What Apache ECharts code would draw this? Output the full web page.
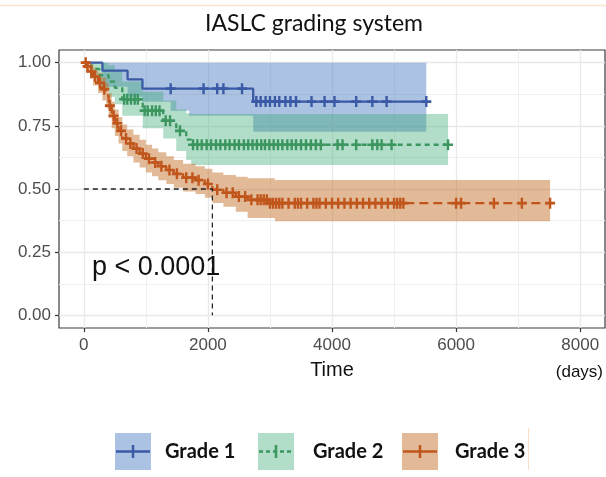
<!DOCTYPE html>
<html><head><meta charset="utf-8">
<script src="https://cdn.jsdelivr.net/npm/echarts@6/dist/echarts.min.js"></script>
<style>html,body{margin:0;padding:0;background:#fff}#c{width:606px;height:477px}</style>
</head><body><div id="c"></div>
<script>
// ---- data ----
const titleText = 'IASLC grading system';
const groups = ['Grade 1', 'Grade 2', 'Grade 3'];
const xTickLabels = [0, 2000, 4000, 6000, 8000];
const xMinorGrid = [1000, 3000, 5000, 7000];
const yTickLabels = [0, 0.25, 0.5, 0.75, 1];
const yMinorGrid = [0.125, 0.375, 0.625, 0.875];

// Grade 1 KM curve
const g1Time = [0, 300, 705, 945, 2730, 5520];
const g1Surv = [1.0, 0.968, 0.934, 0.897, 0.846, 0.846];
const g1BandT = [300, 705, 945, 1400, 1700, 2730, 5520];
const g1BandLo = [0.905, 0.865, 0.845, 0.81, 0.79, 0.727, 0.727];
const g1BandHi = [1.0, 1.0, 1.0, 1.0, 1.0, 1.0, 1.0];
const g1Censor = [1400, 1930, 2150, 2250, 2550, 2780, 2850, 2930, 3000, 3080, 3150, 3250, 3330, 3420, 3670, 3880, 4040, 4390, 4650, 4880, 5520];

// Grade 2 KM curve
const g2Time = [0, 120, 250, 400, 500, 620, 950, 1280, 1490, 1650, 1730, 5870];
const g2Surv = [1.0, 0.975, 0.95, 0.925, 0.90, 0.855, 0.81, 0.77, 0.73, 0.695, 0.675, 0.675];
const g2BandT = [120, 250, 400, 500, 620, 950, 1280, 1490, 1650, 1730, 5870];
const g2BandLo = [0.94, 0.90, 0.865, 0.835, 0.79, 0.74, 0.70, 0.65, 0.615, 0.595, 0.595];
const g2BandHi = [1.0, 1.0, 0.99, 0.97, 0.925, 0.885, 0.85, 0.815, 0.80, 0.797, 0.797];
const g2Censor = [650, 700, 760, 820, 870, 980, 1030, 1100, 1160, 1220, 1320, 1390, 1550, 1760, 1830, 1900, 1980, 2050, 2130, 2200, 2280, 2350, 2430, 2500, 2580, 2650, 2720, 2790, 2860, 2920, 2990, 3060, 3130, 3200, 3280, 3350, 3420, 3500, 3580, 3660, 3740, 3820, 4090, 4170, 4390, 4650, 4730, 4800, 4960, 5870];

// Grade 3 KM curve
const g3Time = [0, 40, 100, 150, 230, 300, 360, 400, 450, 500, 560, 620, 700, 800, 900, 1000, 1100, 1200, 1330, 1450, 1600, 1800, 1950, 2072, 2250, 2450, 2640, 3000, 7515];
const g3Surv = [1.0, 0.985, 0.965, 0.945, 0.92, 0.895, 0.87, 0.83, 0.79, 0.76, 0.73, 0.70, 0.68, 0.66, 0.64, 0.62, 0.605, 0.59, 0.575, 0.56, 0.545, 0.535, 0.52, 0.497, 0.485, 0.47, 0.457, 0.444, 0.444];
const g3BandT = [40, 100, 150, 230, 300, 360, 400, 450, 500, 560, 620, 700, 800, 900, 1000, 1100, 1200, 1330, 1450, 1600, 1800, 1950, 2072, 2250, 2450, 2640, 3080, 7515];
const g3BandLo = [0.96, 0.935, 0.91, 0.88, 0.85, 0.82, 0.78, 0.74, 0.71, 0.68, 0.65, 0.63, 0.605, 0.585, 0.565, 0.55, 0.535, 0.52, 0.505, 0.49, 0.48, 0.465, 0.445, 0.43, 0.41, 0.385, 0.372, 0.372];
const g3BandHi = [1.0, 0.995, 0.98, 0.96, 0.94, 0.92, 0.88, 0.845, 0.815, 0.785, 0.755, 0.735, 0.715, 0.695, 0.675, 0.66, 0.645, 0.63, 0.615, 0.60, 0.59, 0.58, 0.565, 0.555, 0.548, 0.543, 0.536, 0.536];
const g3Censor = [30, 60, 120, 180, 260, 330, 420, 480, 540, 600, 680, 750, 850, 950, 1050, 1150, 1250, 1380, 1500, 1650, 1750, 1850, 2000, 2150, 2300, 2400, 2500, 2600, 2700, 2800, 2850, 2900, 2950, 3000, 3050, 3100, 3150, 3200, 3300, 3400, 3450, 3500, 3600, 3700, 3750, 3800, 3900, 4000, 4100, 4200, 4300, 4400, 4500, 4600, 4700, 4800, 4900, 5000, 5050, 5100, 5150, 6000, 6080, 6610, 7060, 7515];

const medianTime = 2072;
const medianSurv = 0.5;
const pText = 'p < 0.0001';

// ---- styling ----
const lineColors = ['#3a5aa6', '#3b9660', '#c0561c'];
const bandColors = ['rgba(70,120,190,0.45)', 'rgba(60,170,120,0.40)', 'rgba(195,110,40,0.48)'];
const lineDash = ['solid', [5, 4], [9, 5]];
const plusPath = 'path://M3.8,0 H6.2 V3.8 H10 V6.2 H6.2 V10 H3.8 V6.2 H0 V3.8 H3.8 Z';

function survAt(times, surv, t) {
  let s = surv[0];
  for (let i = 0; i < times.length; i++) if (times[i] <= t) s = surv[i];
  return s;
}
function curveData(times, surv) { return times.map((t, i) => [t, surv[i]]); }

const curves = [
  {T: g1Time, S: g1Surv, bT: g1BandT, lo: g1BandLo, hi: g1BandHi, c: g1Censor},
  {T: g2Time, S: g2Surv, bT: g2BandT, lo: g2BandLo, hi: g2BandHi, c: g2Censor},
  {T: g3Time, S: g3Surv, bT: g3BandT, lo: g3BandLo, hi: g3BandHi, c: g3Censor}
];

const series = [];
curves.forEach((g, k) => {
  series.push({
    type: 'custom', name: groups[k] + ' CI', silent: true, z: 1,
    data: [[g.bT[0], g.lo[0]]],
    encode: {x: 0, y: 1},
    renderItem: (params, api) => {
      const pts = [];
      for (let i = 0; i < g.bT.length - 1; i++) {
        pts.push(api.coord([g.bT[i], g.hi[i]]), api.coord([g.bT[i + 1], g.hi[i]]));
      }
      for (let i = g.bT.length - 2; i >= 0; i--) {
        pts.push(api.coord([g.bT[i + 1], g.lo[i]]), api.coord([g.bT[i], g.lo[i]]));
      }
      return {type: 'polygon', shape: {points: pts}, style: {fill: bandColors[k], stroke: null}};
    }
  });
});
curves.forEach((g, k) => {
  series.push({
    type: 'line', name: groups[k], step: 'end', showSymbol: false, z: 3,
    data: curveData(g.T, g.S),
    lineStyle: {color: lineColors[k], width: 2.3, type: lineDash[k]},
    itemStyle: {color: lineColors[k]}
  });
});
curves.forEach((g, k) => {
  series.push({
    type: 'scatter', name: groups[k] + ' censor', symbol: plusPath, symbolSize: [10, 11], z: 4,
    data: g.c.map(t => [t, survAt(g.T, g.S, t)]),
    itemStyle: {color: lineColors[k], opacity: 1}
  });
});
series.push({
  type: 'line', name: 'median', showSymbol: false, z: 5, silent: true,
  data: [[0, medianSurv], [medianTime, medianSurv], [medianTime, 0]],
  lineStyle: {color: '#222', width: 1.3, type: [5, 4]}
});

const axisLabelFont = {color: '#4d4d4d', fontSize: 17, fontFamily: 'Liberation Sans, Arial, sans-serif'};

// legend drawn with graphic elements
const legendKeyX = [115, 258, 402];
const legendTextX = [165, 313, 455];
const legendGraphics = [];
groups.forEach((name, k) => {
  const x0 = legendKeyX[k];
  legendGraphics.push({type: 'rect', shape: {x: x0, y: 433, width: 36, height: 37}, style: {fill: bandColors[k]}});
  legendGraphics.push({type: 'line', shape: {x1: x0 + 1, y1: 451.5, x2: x0 + 35, y2: 451.5},
    style: {stroke: lineColors[k], lineWidth: 2.5, lineDash: k === 1 ? [4, 3] : null}});
  legendGraphics.push({type: 'line', shape: {x1: x0 + 18, y1: 445, x2: x0 + 18, y2: 458},
    style: {stroke: lineColors[k], lineWidth: 2.5}});
  legendGraphics.push({type: 'text', x: legendTextX[k], y: 452,
    style: {text: name, fill: '#111', font: 'bold 20px Lato, sans-serif', textVerticalAlign: 'middle'}});
});

const option = {
  animation: false,
  backgroundColor: '#fff',
  grid: {left: 59, top: 50, right: 1, bottom: 149, show: true, borderColor: '#3a3a3a', borderWidth: 1.2, backgroundColor: '#fff', containLabel: false},
  xAxis: [
    {type: 'value', min: -400, max: 8400, position: 'bottom',
      axisLine: {show: false, onZero: false},
      axisTick: {show: true, inside: false, length: 4, lineStyle: {color: '#333', width: 1.2}, customValues: xTickLabels},
      axisLabel: {customValues: xTickLabels, margin: 9, ...axisLabelFont, formatter: v => String(v)},
      splitLine: {show: true, lineStyle: {color: '#e9e9e9', width: 1.3}},
      name: 'Time', nameLocation: 'middle', nameGap: 32,
      nameTextStyle: {color: '#111', fontSize: 20, fontFamily: 'Liberation Sans, Arial, sans-serif'}},
    {type: 'value', min: -400, max: 8400, position: 'bottom',
      axisLine: {show: false, onZero: false},
      axisTick: {show: false, customValues: xMinorGrid},
      axisLabel: {show: false},
      splitLine: {show: true, lineStyle: {color: '#efefef', width: 1}}}
  ],
  yAxis: [
    {type: 'value', min: -0.05, max: 1.05, position: 'left',
      axisLine: {show: false, onZero: false},
      axisTick: {show: true, inside: false, length: 4, lineStyle: {color: '#333', width: 1.2}, customValues: yTickLabels},
      axisLabel: {customValues: yTickLabels, margin: 8, ...axisLabelFont, formatter: v => v.toFixed(2)},
      splitLine: {show: true, lineStyle: {color: '#e9e9e9', width: 1.3}}},
    {type: 'value', min: -0.05, max: 1.05, position: 'left',
      axisLine: {show: false, onZero: false},
      axisTick: {show: false, customValues: yMinorGrid},
      axisLabel: {show: false},
      splitLine: {show: true, lineStyle: {color: '#efefef', width: 1}}}
  ],
  series: series,
  graphic: [
    {type: 'line', shape: {x1: 0, y1: 5.5, x2: 606, y2: 5.5}, style: {stroke: '#f9e4d0', lineWidth: 1.5}, z: 0},
    {type: 'text', x: 314, y: 24, style: {text: titleText, fill: '#111', font: '23px Lato, sans-serif', textAlign: 'center', textVerticalAlign: 'middle'}},
    {type: 'text', x: 92, y: 268, z: 10, style: {text: pText, fill: '#111', font: '27px "Liberation Sans", Arial, sans-serif', textVerticalAlign: 'middle'}},
    {type: 'text', x: 603, y: 372, style: {text: '(days)', fill: '#111', font: '17px "Liberation Sans", Arial, sans-serif', textAlign: 'right', textVerticalAlign: 'middle'}},
    {type: 'line', shape: {x1: 528.5, y1: 428, x2: 528.5, y2: 470}, style: {stroke: '#f7dfc8', lineWidth: 1}},
    ...legendGraphics
  ]
};
const chart = echarts.init(document.getElementById('c'), null, {renderer: 'canvas'});
chart.setOption(option);
</script></body></html>
